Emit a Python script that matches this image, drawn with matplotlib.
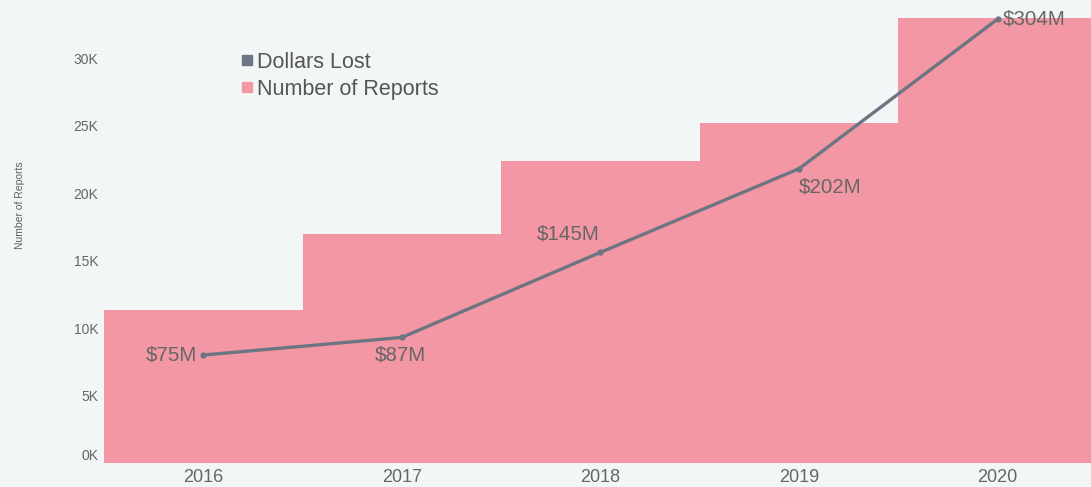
import matplotlib.pyplot as plt
from matplotlib.lines import Line2D

plt.rcParams['font.family'] = ['Liberation Sans', 'DejaVu Sans']

years = ['2016', '2017', '2018', '2019', '2020']
reports = [11300, 17000, 22400, 25200, 33000]
dollars = [75, 87, 145, 202, 304]
dollar_labels = ['$75M', '$87M', '$145M', '$202M', '$304M']

bg = '#f3f6f7'
pink = '#f497a4'
slate = '#6d7583'
txt = '#666666'

fig = plt.figure(figsize=(10.91, 4.87), dpi=100, facecolor=bg)
ax = fig.add_axes([104 / 1091, 24 / 487, 987 / 1091, 463 / 487])
ax.set_facecolor(bg)

x = list(range(len(years)))
ax.bar(x, reports, width=1.0, color=pink, linewidth=0)
ax.set_xlim(-0.5, 4.47)
ax.set_ylim(0, 34300)
ax.set_yticks([0, 5000, 10000, 15000, 20000, 25000, 30000])
ax.set_yticklabels(['0K', '5K', '10K', '15K', '20K', '25K', '30K'])
ax.set_xticks(x)
ax.set_xticklabels(years)
ax.tick_params(axis='y', length=0, pad=4, labelsize=10, labelcolor=txt)
ax.tick_params(axis='x', length=0, pad=4, labelsize=13, labelcolor=txt)
ax.get_yticklabels()[0].set_va('bottom')
for s in ax.spines.values():
    s.set_visible(False)
fig.text(20 / 1091, 1 - 205 / 487, 'Number of Reports', rotation=90,
         ha='center', va='center', fontsize=7.5, color='#5f5f5f')

ax2 = ax.twinx()
ax2.set_ylim(1.4, 317)
ax2.axis('off')
ax2.plot(x, dollars, color=slate, lw=2.4, marker='o', markersize=3.5)

# label placement around each point
offs = [(-6, 0, 'right', 'center'), (-2, -18, 'center', 'center'),
        (-32, 18, 'center', 'center'), (0, -18, 'left', 'center'),
        (5, 0, 'left', 'center')]
for xi, v, lab, (dx, dy, ha, va) in zip(x, dollars, dollar_labels, offs):
    ax2.annotate(lab, (xi, v), xytext=(dx * 0.72, dy * 0.72), textcoords='offset points',
                 ha=ha, va=va, fontsize=14.8, color=txt)

handles = [Line2D([], [], ls='none', marker='s', markersize=7, color=slate),
           Line2D([], [], ls='none', marker='s', markersize=7, color=pink)]
fig.legend(handles, ['Dollars Lost', 'Number of Reports'], loc='upper left',
           bbox_to_anchor=(239 / 1091, 1 - 52 / 487), frameon=False, fontsize=15.5,
           labelcolor='#555555', handlelength=0.7, handletextpad=0.12,
           labelspacing=0.28, borderpad=0, borderaxespad=0)

fig.savefig('out.png', dpi=100, facecolor=bg)
